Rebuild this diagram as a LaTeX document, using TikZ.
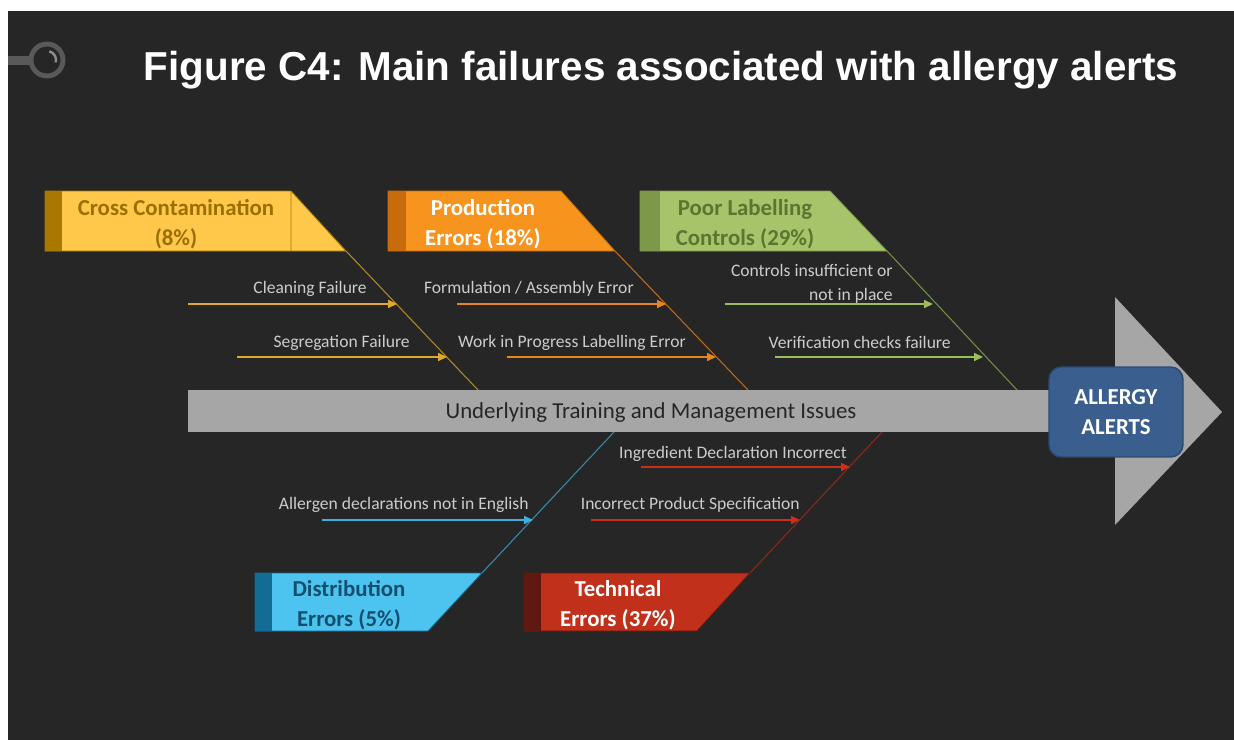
\documentclass[tikz,border=0pt]{standalone}
\usepackage{fontspec}
\setmainfont{Carlito}
\newfontfamily\titlefont{Liberation Sans}
\usetikzlibrary{arrows.meta,positioning}

\definecolor{bgdark}{HTML}{262626}
\definecolor{decogray}{HTML}{595959}
\definecolor{decolite}{HTML}{8C8C8C}
\definecolor{spinegray}{HTML}{A6A6A6}
\definecolor{subtext}{HTML}{CCCCCC}
\definecolor{alertfill}{HTML}{3A5F8F}
\definecolor{alertdraw}{HTML}{2A4A72}
\definecolor{ccfill}{HTML}{FFC84A}
\definecolor{ccstrip}{HTML}{A87800}
\definecolor{cctext}{HTML}{9A7000}
\definecolor{ccline}{HTML}{E0A82E}
\definecolor{ccbone}{HTML}{B08A2A}
\definecolor{pefill}{HTML}{F7941E}
\definecolor{pestrip}{HTML}{C86B0C}
\definecolor{peline}{HTML}{E8861A}
\definecolor{pebone}{HTML}{C06A1A}
\definecolor{plfill}{HTML}{A8C46A}
\definecolor{plstrip}{HTML}{7C9848}
\definecolor{pltext}{HTML}{5A7630}
\definecolor{plline}{HTML}{9ABF5A}
\definecolor{plbone}{HTML}{768F42}
\definecolor{defill}{HTML}{4DC4F0}
\definecolor{destrip}{HTML}{136C93}
\definecolor{detext}{HTML}{164E6E}
\definecolor{deline}{HTML}{3AB0E0}
\definecolor{debone}{HTML}{3A8AAA}
\definecolor{tefill}{HTML}{C1301A}
\definecolor{testrip}{HTML}{601810}
\definecolor{teline}{HTML}{C8301A}
\definecolor{tebone}{HTML}{8A2A18}

\tikzset{
  >={Triangle[length=5pt,width=4.5pt]},
  bone/.style={line width=0.6pt},
  subarr/.style={->,line width=0.8pt},
  sublbl/.style={font=\fontsize{10}{13.5}\selectfont,text=subtext,
    inner sep=0pt,anchor=east,align=right,yshift=-1.1pt},
  catlbl/.style={font=\fontsize{13}{17}\selectfont\bfseries,align=center,
    inner sep=0pt,yshift=-1.1pt},
  catedge/.style={line width=0.5pt},
  spinelbl/.style={font=\fontsize{13}{15}\selectfont,text=black!85,
    inner sep=0pt,yshift=-1.1pt},
  alertbox/.style={rounded corners=7pt,fill=alertfill,draw=alertdraw,
    line width=0.8pt,minimum width=2.68cm,minimum height=1.8cm,
    font=\fontsize{13}{17}\selectfont\bfseries,text=white,align=center},
  titlelbl/.style={font=\titlefont\fontsize{23}{26}\selectfont\bfseries,
    text=white,inner sep=0pt,yshift=-1.8pt},
}

\begin{document}
\begin{tikzpicture}[x=0.02cm,y=-0.02cm]
  \useasboundingbox (0,0) rectangle (1234,740);
  \fill[bgdark] (8,11) rectangle (1234,740);

  % corner mark and title
  \fill[decogray] (8,56) rectangle (32,65);
  \draw[decogray,line width=2.8pt] (47,60) circle[radius=16];
  \draw[decolite,line width=1.4pt] (47,60) ++(-75:9) arc[start angle=-75,end angle=15,radius=9];
  \node[titlelbl] (title) at (661,67) {Figure C4: Main failures associated with allergy alerts};

  % spine and head
  \fill[spinegray] (188,390) rectangle (1116,432);
  \fill[spinegray] (1115,297) -- (1222,412) -- (1115,525) -- cycle;
  \node[spinelbl] (spine) at (651,411) {Underlying Training and Management Issues};
  \node[alertbox] (alert) at (1116,412) {ALLERGY\\ALERTS};

  % cross contamination
  \fill[ccfill] (45,191) -- (291,191) -- (346,251) -- (45,251) -- cycle;
  \fill[ccstrip] (45,191) rectangle (62,251);
  \draw[ccstrip,catedge] (45,191) -- (291,191) -- (346,251) -- (45,251) -- cycle (291,191) -- (291,251);
  \node[catlbl,text=cctext] (cc) at (176,222) {Cross Contamination\\(8\%)};
  \coordinate (ccA) at (346,251);
  \coordinate (ccB) at (478,390);
  \draw[bone,ccbone] (ccA) -- (ccB);
  \coordinate (cc1s) at (188,304); \coordinate (cc1e) at (397,304);
  \coordinate (cc2s) at (237,357); \coordinate (cc2e) at (447,357);
  \draw[subarr,ccline] (cc1s) -- (cc1e);
  \draw[subarr,ccline] (cc2s) -- (cc2e);
  \node[sublbl] (cc1) at (367,287) {Cleaning Failure};
  \node[sublbl] (cc2) at (410,341) {Segregation Failure};

  % production errors
  \fill[pefill] (388,191) -- (561,191) -- (615,251) -- (388,251) -- cycle;
  \fill[pestrip] (388,191) rectangle (406,251);
  \draw[pestrip,catedge] (388,191) -- (561,191) -- (615,251) -- (388,251) -- cycle;
  \node[catlbl,text=white] (pe) at (483,222) {Production\\Errors (18\%)};
  \coordinate (peA) at (615,251);
  \coordinate (peB) at (748,390);
  \draw[bone,pebone] (peA) -- (peB);
  \coordinate (pe1s) at (457,304); \coordinate (pe1e) at (666,304);
  \coordinate (pe2s) at (507,357); \coordinate (pe2e) at (716,357);
  \draw[subarr,peline] (pe1s) -- (pe1e);
  \draw[subarr,peline] (pe2s) -- (pe2e);
  \node[sublbl] (pe1) at (634,287) {Formulation / Assembly Error};
  \node[sublbl] (pe2) at (686,341) {Work in Progress Labelling Error};

  % poor labelling controls
  \fill[plfill] (640,191) -- (830,191) -- (887,251) -- (640,251) -- cycle;
  \fill[plstrip] (640,191) rectangle (660,251);
  \draw[plstrip,catedge] (640,191) -- (830,191) -- (887,251) -- (640,251) -- cycle;
  \node[catlbl,text=pltext] (pl) at (745,222) {Poor Labelling\\Controls (29\%)};
  \coordinate (plA) at (887,251);
  \coordinate (plB) at (1017,390);
  \draw[bone,plbone] (plA) -- (plB);
  \coordinate (pl1s) at (725,304); \coordinate (pl1e) at (933,304);
  \coordinate (pl2s) at (775,357); \coordinate (pl2e) at (983,357);
  \draw[subarr,plline] (pl1s) -- (pl1e);
  \draw[subarr,plline] (pl2s) -- (pl2e);
  \node[sublbl] (pl1) at (893,282) {Controls insufficient or\\not in place};
  \node[sublbl] (pl2) at (951,341) {Verification checks failure};

  % distribution errors
  \fill[defill] (255,573) -- (482,573) -- (428,631) -- (255,631) -- cycle;
  \fill[destrip] (255,573) rectangle (272,631);
  \draw[destrip,catedge] (255,573) -- (482,573) -- (428,631) -- (255,631) -- cycle;
  \node[catlbl,text=detext] (de) at (349,603) {Distribution\\Errors (5\%)};
  \coordinate (deA) at (482,573);
  \coordinate (deB) at (614,432);
  \draw[bone,debone] (deA) -- (deB);
  \coordinate (de1s) at (322,520); \coordinate (de1e) at (533,520);
  \draw[subarr,deline] (de1s) -- (de1e);
  \node[sublbl] (de1) at (529,503) {Allergen declarations not in English};

  % technical errors
  \fill[tefill] (524,573) -- (750,573) -- (697,631) -- (524,631) -- cycle;
  \fill[testrip] (524,573) rectangle (541,631);
  \draw[testrip,catedge] (524,573) -- (750,573) -- (697,631) -- (524,631) -- cycle;
  \node[catlbl,text=white] (te) at (618,603) {Technical\\Errors (37\%)};
  \coordinate (teA) at (750,573);
  \coordinate (teB) at (882,432);
  \draw[bone,tebone] (teA) -- (teB);
  \coordinate (te1s) at (641,467); \coordinate (te1e) at (850,467);
  \coordinate (te2s) at (591,520); \coordinate (te2e) at (800,520);
  \draw[subarr,teline] (te1s) -- (te1e);
  \draw[subarr,teline] (te2s) -- (te2e);
  \node[sublbl] (te1) at (847,452) {Ingredient Declaration Incorrect};
  \node[sublbl] (te2) at (800,503) {Incorrect Product Specification};
\end{tikzpicture}
\end{document}
